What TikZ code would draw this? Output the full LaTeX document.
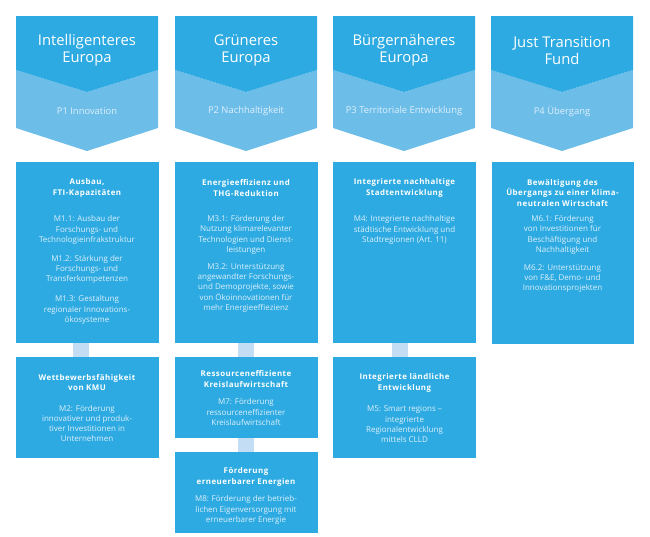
\documentclass[tikz,border=0pt]{standalone}
\usepackage{fontspec}
\setmainfont{Open Sans}
\definecolor{mainblue}{HTML}{2DAAE1}
\definecolor{lightblue}{HTML}{6DBDE9}
\definecolor{stubblue}{HTML}{C3DEF4}
\definecolor{paletext}{HTML}{DDF0FB}
\tikzset{
  boxnode/.style={fill=mainblue, draw=none, inner sep=0pt, minimum width=142.5pt, anchor=north west},
  bodytext/.style={text=paletext, align=center, inner sep=0pt, font=\fontsize{8}{10.3}\selectfont},
  headtext/.style={text=white, align=center, inner sep=0pt, font=\fontsize{7.9}{10.3}\selectfont\bfseries\addfontfeatures{LetterSpace=6}},
  chevtitle/.style={text=white, align=center, inner sep=0pt, font=\fontsize{14.8}{17}\selectfont},
  chevsub/.style={text=paletext, align=center, inner sep=0pt, font=\fontsize{9.4}{10}\selectfont},
  stubline/.style={draw=stubblue, line width=16pt},
  darkchev/.style={fill=mainblue, draw=none},
  lightchev/.style={fill=lightblue, draw=none}
}
\begin{document}
\begin{tikzpicture}[x=1pt, y=-1pt]
\useasboundingbox (0,0) rectangle (650,536);
% chevrons
\foreach \xl/\xr in {16/158, 175/317, 333/475, 491/633}{
  \pgfmathsetmacro{\xm}{(\xl+\xr)/2}
  \fill[lightchev] (\xl,70) -- (\xm,92) -- (\xr,70) -- (\xr,128) -- (\xm,151) -- (\xl,128) -- cycle;
  \fill[darkchev] (\xl,16) -- (\xr,16) -- (\xr,70) -- (\xm,92) -- (\xl,70) -- cycle;
}
\node[chevtitle] (c1) at (87,50.5) {Intelligenteres\\Europa};
\node[chevtitle] (c2) at (246,50.5) {Grüneres\\Europa};
\node[chevtitle] (c3) at (404,50.5) {Bürgernäheres\\Europa};
\node[chevtitle] (c4) at (562,50.5) {Just Transition\\Fund};
\node[chevsub] (p1) at (87,111.5) {P1 Innovation};
\node[chevsub] (p2) at (246,111.5) {P2 Nachhaltigkeit};
\node[chevsub] (p3) at (404,111.5) {P3 Territoriale Entwicklung};
\node[chevsub] (p4) at (562,111.5) {P4 Übergang};
% boxes
\node[boxnode, minimum height=181pt] (b11) at (16,162) {};
\node[boxnode, minimum height=181pt] (b21) at (175,162) {};
\node[boxnode, minimum height=181pt] (b31) at (333,162) {};
\node[boxnode, minimum height=182pt] (b41) at (491.5,162) {};
\node[boxnode, minimum height=101pt] (b12) at (16,357) {};
\node[boxnode, minimum height=81pt] (b22) at (175,357) {};
\node[boxnode, minimum height=81pt] (b23) at (175,452) {};
\node[boxnode, minimum height=101pt] (b32) at (333,357) {};
% stubs
\draw[stubline] ([xshift=-6.5pt]b11.south) -- ([xshift=-6.5pt]b12.north);
\draw[stubline] (b21.south) -- (b22.north);
\draw[stubline] (b22.south) -- (b23.north);
\draw[stubline] ([xshift=-4.5pt]b31.south) -- ([xshift=-4.5pt]b32.north);
% column 1
\node[headtext] (h11) at (87,188) {Ausbau,\\FTI-Kapazitäten};
\node[bodytext] (m11) at (87,230) {M1.1: Ausbau der\\Forschungs- und\\Technologieinfrakstruktur};
\node[bodytext] (m12) at (87,269.5) {M1.2: Stärkung der\\Forschungs- und\\Transferkompetenzen};
\node[bodytext] (m13) at (87,310) {M1.3: Gestaltung\\regionaler Innovations-\\ökosysteme};
\node[headtext] (h12) at (87,382.5) {Wettbewerbsfähigkeit\\von KMU};
\node[bodytext] (m2) at (87,423.5) {M2: Förderung\\innovativer und produk-\\tiver Investitionen in\\Unternehmen};
% column 2
\node[headtext] (h21) at (246,188) {Energieeffizienz und\\THG-Reduktion};
\node[bodytext] (m31) at (246,235) {M3.1: Förderung der\\Nutzung klimarelevanter\\Technologien und Dienst-\\leistungen};
\node[bodytext] (m32) at (246,288) {M3.2: Unterstützung\\angewandter Forschungs-\\und Demoprojekte, sowie\\von Ökoinnovationen für\\mehr Energieeffiezienz};
\node[headtext] (h22) at (246,379) {Ressourceneffiziente\\Kreislaufwirtschaft};
\node[bodytext] (m7) at (246,412) {M7: Förderung\\ressourceneffizienter\\Kreislaufwirtschaft};
\node[headtext] (h23) at (246,477) {Förderung\\erneuerbarer Energien};
\node[bodytext] (m8) at (246,510) {M8: Förderung der betrieb-\\lichen Eigenversorgung mit\\erneuerbarer Energie};
% column 3
\node[headtext] (h31) at (404.5,188) {Integrierte nachhaltige\\Stadtentwicklung};
\node[bodytext] (m4) at (404.5,230) {M4: Integrierte nachhaltige\\städtische Entwicklung und\\Stadtregionen (Art. 11)};
\node[headtext] (h32) at (404.5,383) {Integrierte ländliche\\Entwicklung};
\node[bodytext] (m5) at (404.5,424.5) {M5: Smart regions –\\integrierte\\Regionalentwicklung\\mittels CLLD};
% column 4
\node[headtext] (h41) at (562.5,193) {Bewältigung des\\Übergangs zu einer klima-\\neutralen Wirtschaft};
\node[bodytext] (m61) at (562.5,235) {M6.1: Förderung\\von Investitionen für\\Beschäftigung und\\Nachhaltigkeit};
\node[bodytext] (m62) at (562.5,278.5) {M6.2: Unterstützung\\von F\&E, Demo- und\\Innovationsprojekten};
\end{tikzpicture}
\end{document}
